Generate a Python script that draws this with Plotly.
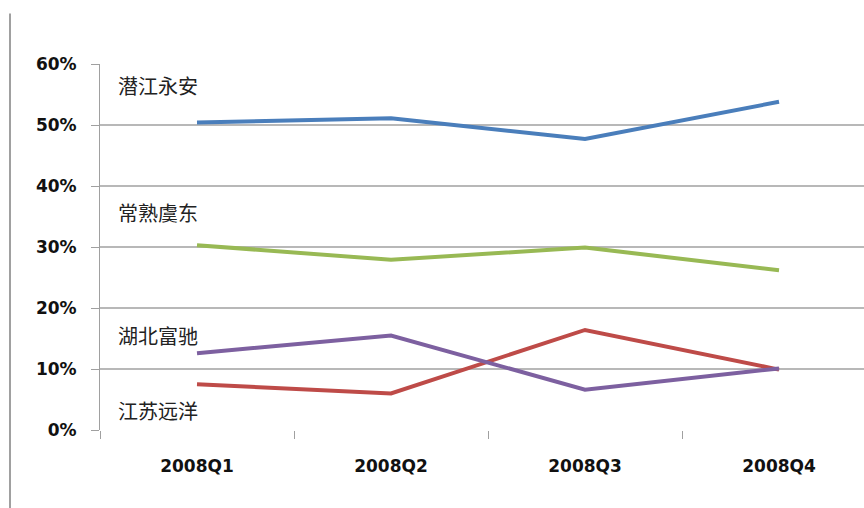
import plotly.graph_objects as go

quarters = ["2008Q1", "2008Q2", "2008Q3", "2008Q4"]
qianjiang = [0.504, 0.511, 0.477, 0.538]
changshu = [0.303, 0.279, 0.299, 0.262]
hubei = [0.126, 0.155, 0.066, 0.101]
jiangsu = [0.075, 0.060, 0.164, 0.099]
series_names = ["潜江永安", "常熟虞东", "湖北富驰", "江苏远洋"]
label_y = [0.564, 0.356, 0.155, 0.032]
y_ticks = [0, 0.1, 0.2, 0.3, 0.4, 0.5, 0.6]
y_tick_text = ["0%", "10%", "20%", "30%", "40%", "50%", "60%"]

order = [qianjiang, changshu, jiangsu, hubei]
order_colors = ["#4a7ebb", "#98b954", "#be4b48", "#7d60a0"]

fig = go.Figure()
for vals, c in zip(order, order_colors):
    fig.add_trace(go.Scatter(x=quarters, y=vals, mode="lines",
                             line=dict(color=c, width=4), showlegend=False))

for name, ly in zip(series_names, label_y):
    fig.add_annotation(x=-0.415, y=ly, xref="x", yref="y", text=name,
                       showarrow=False, xanchor="left", yanchor="middle",
                       font=dict(family="Noto Sans CJK SC", size=20, color="#222222"))

fig.add_shape(type="line", xref="paper", yref="paper",
              x0=-0.1178, x1=-0.1178, y0=1.138, y1=-0.25,
              line=dict(color="#a0a0a0", width=2))

tick_font = dict(family="DejaVu Sans", size=17, color="#111111", weight="bold")

fig.update_layout(
    width=864, height=508,
    margin=dict(l=100, r=0, t=64, b=78),
    paper_bgcolor="white", plot_bgcolor="white",
    xaxis=dict(type="category", range=[-0.5, 3.438], tickson="boundaries",
               ticks="outside", ticklen=8, tickcolor="#a0a0a0", tickwidth=1,
               showgrid=False, showline=False, zeroline=False,
               ticklabelstandoff=24, tickfont=tick_font),
    yaxis=dict(range=[0, 0.6], tickvals=y_ticks, ticktext=y_tick_text,
               ticks="outside", ticklen=8, tickcolor="#a0a0a0", tickwidth=1,
               showgrid=True, gridcolor="#b8b8b8", gridwidth=2,
               showline=True, linecolor="#a0a0a0", linewidth=1,
               zeroline=False, ticklabelstandoff=11, tickfont=tick_font),
)

fig.write_html("out.html")
